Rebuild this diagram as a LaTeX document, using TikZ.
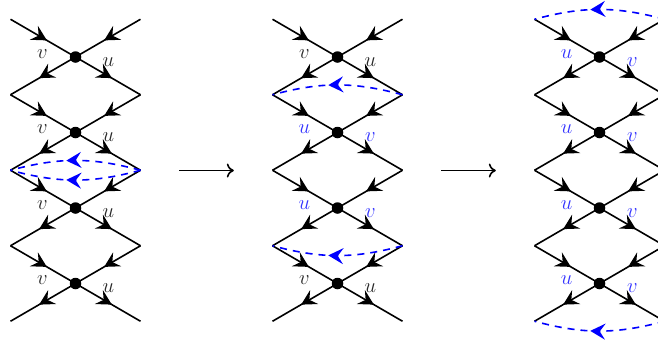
\documentclass[tikz,border=0pt]{standalone}
\usepackage{fix-cm}
\usetikzlibrary{arrows.meta,decorations.markings,bending}
\definecolor{lblblue}{RGB}{50,50,255}
\definecolor{lblblack}{RGB}{40,40,40}
\tikzset{
  x=1bp,y=-1bp,
  midtip/.style={postaction={decorate,decoration={markings,mark=at position #1 with {\arrow{Stealth[length=15bp,width=16bp,inset=5.5bp]}}}}},
  wire/.style={draw=black,line width=1.6bp,midtip=0.56},
  ghost/.style={blue,line width=1.6bp,dash pattern=on 7bp off 6bp,midtip=0.57},
  vtx/.style={circle,fill=black,inner sep=0pt,minimum size=11.5bp},
  pt/.style={inner sep=0pt,minimum size=0pt},
  lab/.style={inner sep=0pt,font=\fontsize{20.74}{21}\selectfont,lblblack},
  labb/.style={lab,lblblue},
  bigarrow/.style={-{To[length=7bp,width=14bp]},line width=1.6bp},
}
\begin{document}
\begin{tikzpicture}
\useasboundingbox (0,0) rectangle (658,343);
\clip (0,0) rectangle (658,343);
\foreach \c/\cx in {a/75.5,b/337.5,c/599.5}{
  \foreach \i/\vy in {1/57,2/132.5,3/208,4/283.5}{
    \node[vtx] (\c v\i) at (\cx,\vy) {};
    \node[pt] (\c tl\i) at ({\cx-65},{\vy-37.75}) {};
    \node[pt] (\c tr\i) at ({\cx+65},{\vy-37.75}) {};
    \node[pt] (\c bl\i) at ({\cx-65},{\vy+37.75}) {};
    \node[pt] (\c br\i) at ({\cx+65},{\vy+37.75}) {};
    \draw[wire] (\c tl\i.center) -- (\c v\i.center);
    \draw[wire] (\c tr\i.center) -- (\c v\i.center);
    \draw[wire] (\c v\i.center) -- (\c bl\i.center);
    \draw[wire] (\c v\i.center) -- (\c br\i.center);
  }
}
% labels
\foreach \c/\cx/\st/\a/\b in {
  a/75.5/lab/v/u,
  c/599.5/labb/u/v}{
  \foreach \vy in {57,132.5,208,283.5}{
    \node[\st,anchor=base] (l\c\vy) at ({\cx-33},{\vy+1}) {$\a$};
    \node[\st,anchor=base] (r\c\vy) at ({\cx+33},{\vy+9}) {$\b$};
  }
}
\foreach \vy/\st/\a/\b in {57/lab/v/u,132.5/labb/u/v,208/labb/u/v,283.5/lab/v/u}{
  \node[\st,anchor=base] (lb\vy) at ({337.5-33},{\vy+1}) {$\a$};
  \node[\st,anchor=base] (rb\vy) at ({337.5+33},{\vy+9}) {$\b$};
}
% ghost lines
\draw[ghost] (atr3.center) to[bend right=15] (atl3.center);
\draw[ghost] (abr2.center) to[bend left=15] (abl2.center);
\draw[ghost] (btr2.center) to[bend right=15] (btl2.center);
\draw[ghost] (bbr3.center) to[bend left=15] (bbl3.center);
\draw[ghost] (ctr1.center) to[bend right=15] (ctl1.center);
\draw[ghost] (cbr4.center) to[bend left=15] (cbl4.center);
% arrows
\node[pt] (m1) at (179,170.5) {};
\node[pt] (m2) at (234,170.5) {};
\node[pt] (m3) at (441,170.5) {};
\node[pt] (m4) at (496,170.5) {};
\draw[bigarrow] (m1) -- (m2);
\draw[bigarrow] (m3) -- (m4);
\end{tikzpicture}
\end{document}
